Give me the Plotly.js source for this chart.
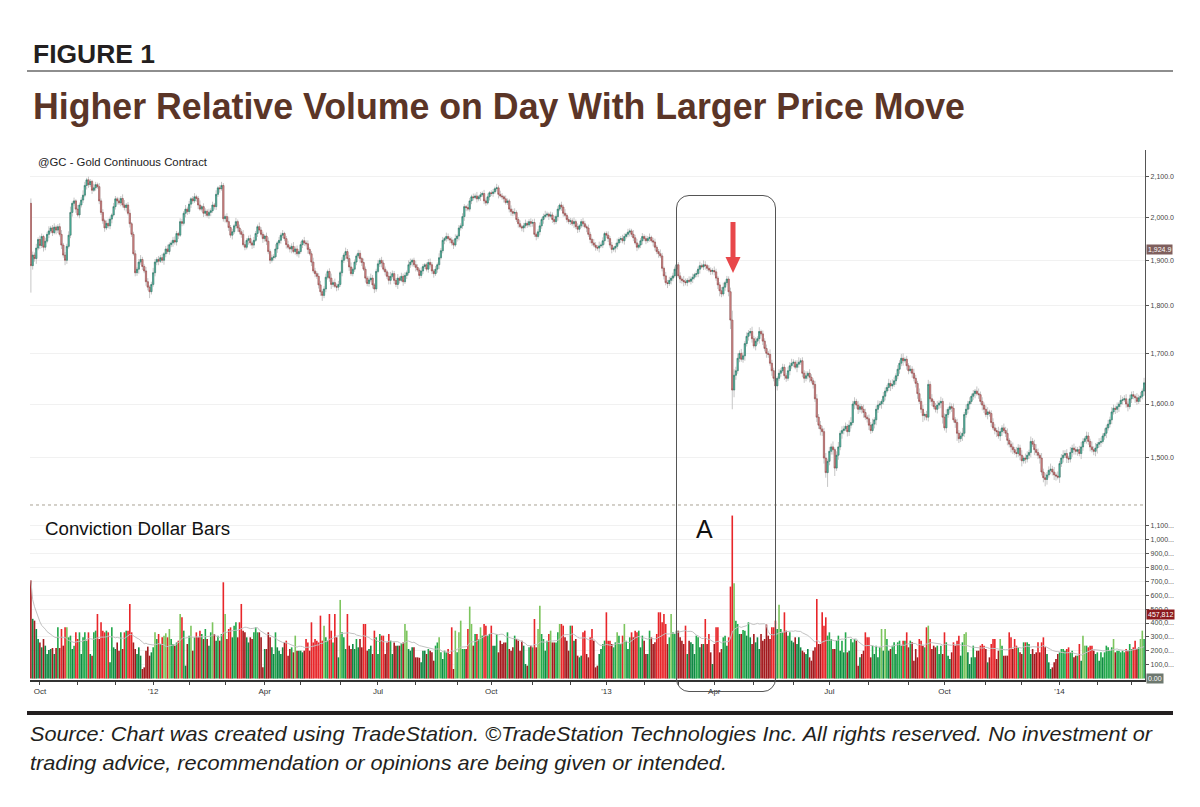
<!DOCTYPE html>
<html>
<head>
<meta charset="utf-8">
<script src="https://cdn.plot.ly/plotly-3.0.1.min.js"></script>
<style>
  html,body{margin:0;padding:0;background:#fff;}
  body{width:1200px;height:807px;overflow:hidden;position:relative;font-family:"Liberation Sans",Arial,sans-serif;}
  .abs{position:absolute;white-space:nowrap;line-height:1;transform-origin:0 0;}
  #figno{left:33px;top:41px;font-size:26px;font-weight:bold;color:#231f20;}
  #title{left:33px;top:89px;font-size:36px;font-weight:bold;color:#5b3527;}
  #src1,#src2{left:30px;font-size:21px;font-style:italic;color:#231f20;}
  #src1{top:723px;} #src2{top:752px;}
  #gc{left:38px;top:157px;font-size:10.5px;color:#222;}
  #conv{left:45px;top:520px;font-size:18px;color:#111;}
  #lblA{left:696px;top:517px;font-size:25px;color:#111;}
  #chart{position:absolute;left:28px;top:148px;width:1150px;height:552px;}
  .rule{position:absolute;}
</style>
</head>
<body>
<div class="abs" id="figno">FIGURE 1</div>
<div class="rule" style="left:27px;top:70px;width:1146px;height:2px;background:#8e8e8e;"></div>
<div class="abs" id="title">Higher Relative Volume on Day With Larger Price Move</div>
<div id="chart"></div>
<div class="abs" id="gc">@GC - Gold Continuous Contract</div>
<div class="abs" id="conv">Conviction Dollar Bars</div>
<div class="abs" id="lblA">A</div>
<div style="position:absolute;left:676px;top:195px;width:98px;height:495px;border:1.2px solid #555;border-radius:13px;pointer-events:none;"></div>
<svg style="position:absolute;left:0;top:0;pointer-events:none;" width="1200" height="807">
  <rect x="730.5" y="222" width="5" height="38" fill="#e8474a"/>
  <polygon points="725.5,257 740.5,257 733,273" fill="#e8474a"/>
</svg>
<div class="rule" style="left:27px;top:711px;width:1146px;height:4px;background:#231f20;"></div>
<div class="abs" id="src1">Source: Chart was created using TradeStation. ©TradeStation Technologies Inc. All rights reserved. No investment or</div>
<div class="abs" id="src2">trading advice, recommendation or opinions are being given or intended.</div>

<script>
// ---------------- DATA ----------------
const firstOpen = 2034;

const closes2011 = [1888,1912,1904,1928,1948,1934,1955,1930,1944,1960,1968,1975,1964,1977,1970,1978,1960,1935,1912,1900,
1932,1958,2012,2034,2040,2020,2006,2030,2042,2054,2078,2092,2080,2088,2066,2072,2080,2075,2040,2012,
1992,1975,1986,1980,1996,2006,2026,2045,2040,2035,2046,2030,2024,2030,2010,1985,1960,1915,1872,1880,
1896,1902,1886,1876,1852,1840,1830,1846];

const closes2012 = [1872,1896,
1902,1898,1906,1900,1915,1926,1920,1936,1940,1946,
1942,1962,1958,1990,1986,2010,2020,2014,2032,2045,
2040,2050,2046,2030,2020,2026,2010,2015,2005,2012,
2016,2030,2026,2056,2072,2070,2078,1997,
2002,1990,1976,1958,1966,1980,1990,1975,1966,1960,
1936,1930,1946,1950,1940,1935,1946,1962,1978,1970,
1960,1950,1956,1944,1920,1900,1906,1908,1926,1940,
1946,1958,1962,1950,1936,1930,1926,1932,1920,1926,
1915,1920,1936,1945,1940,1938,1925,1915,1896,1876,
1870,1864,1845,1830,1822,1836,1862,1875,
1860,1846,1850,1842,1840,1846,1872,1900,1912,1920,
1904,1885,1870,1880,1896,1910,1916,1904,1895,1880,
1860,1848,1856,1860,1845,1836,1875,1892,1900,1894,
1880,1874,1864,1855,1864,1870,1855,1846,1860,1855,
1864,1852,1866,1872,1890,1896,1900,1890,1884,1878,
1866,1876,1886,1890,1880,1895,1890,1876,1870,1880,
1890,1906,1922,1946,1950,1955,1950,1947,1940,1935,
1950,1956,1975,1980,2002,2026,2024,2020,2040,2050,
2048,2052,2045,2050,2055,2058,2040,2035,2050,2060,
2058,2062,2070,2072,2056,2052,2050,2045,2036,2040,
2020,2014,2010,2012,1995,1985,1978,1975,1980,1986,
1982,1990,1986,1988,1960,1955,1966,1980,1995,2002,
2006,2008,2003,2006,1995,1990,2002,2020,2030,2025,
2010,2005,1995,1990,1992,1985,1990,1978,1972,1980,
1990,1985,1978,1975,1960,1948,1940,1935,1930,1928,
1933,1935,1945,1962];

const closes2013 = [1958,1950,1935,1925,1928,1932,1940,1948,1950,1945,
1955,1960,1965,1968,1960,1952,1940,1930,1935,1945,
1955,1950,1945,1950,1953,1945,1942,1930,1920,1915,
1910,1882,1865,1850,1848,1855,1860,1865,1880,1890,
1865,1858,1855,1852,1850,1855,1853,1858,1862,1868,
1870,1880,1888,1885,1890,1888,1882,1878,1875,1877,
1874,1860,1845,1832,1825,1840,1850,1858,1830,1769,
1627,1656,1665,1690,1700,1688,1695,1720,1735,1742,
1745,1730,1715,1725,1730,1745,1740,1725,1710,1700,
1698,1680,1665,1650,1635,1650,1660,1665,1672,1655,
1650,1665,1675,1680,1682,1672,1678,1682,1685,1660,
1650,1655,1660,1652,1645,1638,1610,1575,1560,1553,
1548,1500,1474,1494,
1512,1520,1515,1482,1505,1520,1545,1550,1553,1558,
1548,1560,1565,1600,1605,1598,1590,1595,1590,1584,
1575,1572,1560,1550,1562,1570,1590,1598,1600,1605,
1615,1625,1632,1640,1635,1638,1645,1655,1668,1680,
1690,1685,1688,1675,1665,1668,1660,1650,1640,1620,
1605,1590,1578,1580,1575,1638,1610,1605,1595,1590,
1598,1602,1605,1575,1555,1580,1590,1595,1592,1570,
1565,1545,1535,1540,1545,1580,1590,1600,1605,1615,
1620,1625,1620,1618,1605,1598,1590,1580,1585,1582,
1565,1555,1550,1548,1540,1548,1555,1550,1545,1532,
1525,1520,1515,1510,1508,1518,1505,1495,1500,1498,
1505,1510,1530,1525,1515,1510,1505,1500,1475,1465,
1462,1470,1478,1480,1475,1470,1468,1466];

const closes2014 = [1490,1500,1505,1508,1500,1498,1510,1518,1515,1512,
1515,1508,1520,1530,1535,1540,1530,1520,1515,1512,
1518,1525,1528,1530,1540,1545,1555,1562,1570,1585,
1592,1590,1595,1600,1607,1608,1610,1600,1595,1610,
1618,1615,1612,1605,1612,1615,1625,1641];

// upper / lower wick lengths (price units) beyond the candle body
const wickHi = [
12,8,6,10,5,9,7,4,8,6,11,5,7,9,4,6,8,10,5,7,
6,9,14,5,8,4,10,6,7,12,9,5,8,6,4,10,7,5,9,6,
8,5,7,11,6,4,9,7,5,8,6,10,12,5,7,9,4,6,8,5,
7,10,6,5,9,8,4,6,11,7,5,8,6,9,4,7,10,5,6,8,
9,6,4,8,7,5,10,6,8,4,7,9,5,6,11,4,8,7,5,9,
6,8,5,10,4,7,9,6,5,8,12,6,7,4,9,5,8,6,10,7,
5,7,9,4,8,6,5,10,7,6,4,8,9,5,7,6,11,4,8,6,
8,4,6,9,5,7,10,6,8,5,7,4,9,6,8,5,6,10,7,5,
7,9,5,6,8,4,7,10,5,9,6,8,4,7,5,9,6,8,10,4,
6,5,8,7,4,9,6,5,8,10,7,4,6,9,5,8,7,6,4,9,
10,7,6,5,9,4,8,6,7,5,10,8,4,6,9,7,5,8,6,4,
5,8,9,6,4,7,5,10,6,8,4,9,7,5,6,8,10,4,7,6,
8,6,4,9,7,5,8,6,10,4,7,5,9,6,8,4,6,7,5,10,
6,9,7,4,8,6,5,9,7,10,5,6,8,4,7,9,5,6,8,7,
9,4,6,8,5,7,10,6,4,8,6,9,5,7,4,8,6,10,5,7,
7,6,10,5,8,4,6,9,7,5,8,6,4,9,7,5,10,6,8,4,
5,9,6,7,4,8,10,5,6,9,7,4,8,6,5,10,7,9,4,6,
8,5,7,6,9,4,7,8,5,6,10,7,4,9,6,8,5,7,6,9,
6,8,4,10,7,5,9,6,8,4,7,6,9,5,10,8,4,7,6,5,
9,7,5,6,8,10,4,7,6,9,20,12,8,10,6,9,7,5,8,6,
7,10,6,8,5,9,4,7,6,8,5,10,7,6,9,4,8,5,7,6,
5,8,7,9,6,4,8,10,5,7,6,9,4,8,6,5,7,9,6,8,
6,7,9,5,8,6,10,4,7,9,5,8,6,7,4,9,10,6,8,5,
8,6,5,9,7,4,8,6,10,5,7,9,6,4,8,7,5,9,6,10,
7,5,8,6,9,10,4,7,5,8,6,9,7,5,10,6,8,4,7,9,
6,9,4,7,8,5,9,6,7,10,4,8,6,9,5,7,6,8,10,5,
9,6,8,5,7,4,9,10,6,8,5,7,9,4,6,8,7,5,9,6,
5,8,7,9,4,6,8,5,10,7,6,9,4,8,7,5,9,6,8,10,
7,4,9,6,8,5,7,10,6,9,4,8,5,7,9,6,8,4,10,6,
8,6,5,7,9,6,4,8,7,5,10,6,9,4,8,7,5,9,6,8,
6,9,7,5,8,4,10,6,7,9,5,8,6,7,4,9,6,8,5,10];

const wickLo = [
60,9,7,12,5,8,6,10,7,5,9,6,8,4,10,7,5,9,6,11,
8,5,7,10,6,9,4,8,6,7,5,10,8,6,9,4,7,5,8,6,
7,9,5,6,8,10,4,7,9,5,8,6,7,10,5,9,6,4,8,7,
10,6,8,5,9,7,14,6,5,8,7,9,4,6,10,8,5,7,6,9,
6,8,9,4,7,5,10,8,6,9,7,5,8,10,4,6,9,7,5,8,
9,5,7,8,6,10,5,7,9,4,8,6,10,5,7,9,6,8,4,7,
5,10,6,9,7,4,8,6,5,10,7,9,6,8,5,7,4,9,6,8,
7,6,9,5,8,10,4,7,6,9,5,8,7,6,10,4,9,5,8,6,
8,9,12,6,7,5,8,10,6,4,9,7,5,8,6,10,7,9,5,6,
6,7,5,9,8,4,10,6,7,5,8,9,6,4,7,10,5,8,6,9,
9,5,8,6,10,7,4,9,5,8,6,7,10,5,9,4,8,6,7,5,
5,8,6,7,9,5,8,10,4,6,9,7,5,8,6,9,4,7,10,6,
7,10,9,5,6,8,7,4,9,6,10,5,8,7,4,9,6,8,5,7,
10,4,7,9,5,6,8,10,7,5,6,9,4,8,10,6,7,5,9,8,
6,9,5,8,7,10,4,6,9,5,8,7,6,10,5,9,8,4,7,6,
8,5,10,6,9,7,5,8,4,10,6,9,7,5,8,6,10,4,7,9,
7,8,6,9,5,10,7,4,8,6,9,5,7,10,6,8,4,9,5,7,
9,6,8,5,7,4,10,8,6,9,5,7,8,6,10,5,9,7,4,8,
5,9,7,10,6,8,4,7,9,5,6,8,10,4,7,9,6,5,8,7,
8,6,9,12,7,5,8,6,10,19,37,14,9,6,8,5,7,10,6,9,
6,8,5,9,7,10,4,8,6,9,7,5,10,6,8,9,5,7,4,8,
7,5,9,6,8,4,10,7,5,8,9,6,7,10,5,8,6,9,7,12,
8,10,9,25,7,6,9,14,5,8,6,10,7,4,9,8,6,5,10,7,
9,6,8,10,5,7,9,6,4,8,10,7,5,9,6,8,4,7,10,6,
5,8,7,9,6,10,4,8,7,5,9,6,8,10,5,7,12,9,6,8,
7,9,5,6,8,7,10,12,5,9,6,8,7,5,10,14,8,6,9,7,
6,8,10,5,7,9,4,8,6,10,7,5,9,6,8,4,7,10,5,9,
8,5,7,9,6,10,8,4,7,6,9,10,5,8,6,7,9,5,10,6,
7,10,6,8,12,9,5,7,6,9,8,4,10,6,8,5,9,7,6,8,
9,6,8,5,10,7,4,9,6,8,5,7,9,10,6,8,4,7,9,5,
6,8,5,9,7,10,6,8,4,7,9,5,8,6,10,7,5,8,6,9];

// Conviction Dollar Bars (thousands)
const vol2011 = [705,430,417,357,285,260,225,285,237,177,206,213,220,177,220,369,220,357,237,369,
369,297,309,213,237,333,285,333,177,297,333,273,333,177,165,333,345,465,285,405,
345,333,345,333,117,369,225,213,260,201,333,213,333,345,345,537,333,260,213,177,
225,165,69,81,201,230,165,189];

const vol2012 = [225,333,285,321,249,297,309,326,297,357,285,249,237,260,273,465,441,345,93,
249,309,381,201,297,333,297,
345,321,285,357,285,237,333,405,
321,273,309,273,321,693,465,285,357,369,297,381,405,297,405,537,345,333,297,260,297,285,333,369,333,333,297,81,213,213,333,297,225,177,333,225,201,
177,225,260,273,165,213,225,189,309,
201,201,201,189,201,285,260,201,405,
260,285,273,260,453,273,381,297,273,
465,345,260,465,297,153,566,333,297,213,465,237,213,249,
213,285,225,285,225,393,393,201,213,
237,177,345,297,177,321,309,309,177,
260,321,273,177,260,237,237,
237,254,260,393,
345,213,201,225,225,153,153,150,117,201,
201,177,213,201,189,129,237,260,297,189,
141,201,189,213,177,369,69,345,189,333,
417,213,213,213,357,518,393,237,321,321,
285,369,309,393,381,309,321,381,237,237,
321,189,273,249,260,260,333,213,201,225,
309,285,273,201,273,237,105,93,225,237,
225,429,225,357,525,321,285,201,273,321,
345,260,260,260,333,393,393,381,297,273,
201,381,381,273,285,165,153,165,333,345,
177,153,297,357,273,81,93,177,213,249,
273];

const vol2013 = [477,273,273,249,225,261,333,309,249,309,
393,273,213,297,333,297,345,333,345,225,
309,273,177,177,345,297,249,261,321,477,
477,405,465,393,249,297,465,333,321,345,
345,297,273,249,381,177,273,261,249,177,
309,297,225,249,249,429,249,321,189,105,
249,369,369,189,213,297,309,237,297,662,
1173,686,417,393,321,321,350,345,309,405,
297,249,321,261,297,213,321,273,285,389,
309,285,369,369,417,357,532,357,333,477,
345,309,333,273,261,297,249,297,225,201,
189,177,213,153,129,201,225,573,249,249,
477,381,441,309,333,285,213,213,273,309,
201,273,189,333,189,
201,285,261,285,273,93,153,177,201,333,
297,297,153,237,177,237,153,225,357,201,
357,285,201,213,237,261,177,261,273,237,
273,273,333,225,273,261,129,213,153,285,
273,237,225,369,381,285,213,237,225,237,
177,237,177,333,261,165,141,189,261,237,
273,309,165,261,321,333,189,105,153,237,
153,201,201,237,249,237,213,117,153,249,
285,285,141,201,285,237,165,165,165,333,
297,213,285,237,225,189,177,261,261,261,
249,177,213,177,189,261,189,261,297,225,
177,117,69,81,117,141,177];

const vol2014 = [189,213,213,201,213,225,189,201,153,165,165,249,129,
309,237,237,225,237,237,201,177,189,129,
189,153,189,237,225,201,225,285,189,201,
201,189,201,189,213,201,249,213,225,273,
213,225,285,345,285];

// calendar: first bar and exchange holidays without a bar
const startDate = '2011-09-26';
const holidays = ['2011-11-24','2011-12-26','2012-01-02','2012-01-16','2012-02-20','2012-04-06','2012-05-28',
'2012-07-04','2012-09-03','2012-11-22','2012-12-25','2013-01-01','2013-01-21','2013-02-18','2013-03-29',
'2013-05-27','2013-07-04','2013-09-02','2013-11-28','2013-12-25','2014-01-01','2014-01-20','2014-02-17'];

// axis labels
const quarterLabels = {'2011-10':'Oct','2012-01':"'12",'2012-04':'Apr','2012-07':'Jul','2012-10':'Oct',
'2013-01':"'13",'2013-04':'Apr','2013-07':'Jul','2013-10':'Oct','2014-01':"'14"};
const priceTicks = [1500,1600,1700,1800,1900,2000,2100];
const priceTickText = ['1,500.0','1,600.0','1,700.0','1,800.0','1,900.0','2,000.0','2,100.0'];
const volTicks = [100,200,300,400,500,600,700,800,900,1000,1100];
const volTickText = ['100,0...','200,0...','300,0...','400,0...','500,0...','600,0...','700,0...','800,0...','900,0...','1,000...','1,100...'];
const supportLine = {from: 0, to: 386, p0: 1818, p1: 1810};
const lastTag = 1924.9;
const volTag = 457.812;

// ---------------- BUILD ----------------
const closes = [].concat(closes2011, closes2012, closes2013, closes2014);
const volume = [].concat(vol2011, vol2012, vol2013, vol2014);
const n = Math.min(closes.length, volume.length, wickHi.length, wickLo.length);

const dates = [];
(function(){
  let d = new Date(startDate + 'T00:00:00Z');
  while (dates.length < n) {
    const wd = d.getUTCDay();
    const s = d.toISOString().slice(0,10);
    if (wd !== 0 && wd !== 6 && holidays.indexOf(s) < 0) dates.push(s);
    d.setUTCDate(d.getUTCDate() + 1);
  }
})();

const C = closes.slice(0,n);
const O = C.map((c,i)=> i===0 ? firstOpen : C[i-1]);
const H = C.map((c,i)=> Math.max(O[i],c) + wickHi[i]);
const L = C.map((c,i)=> Math.min(O[i],c) - wickLo[i]);
const BH = C.map((c,i)=> Math.max(O[i],c));
const BL = C.map((c,i)=> Math.min(O[i],c));
const V = volume.slice(0,n);

// 20-bar moving average of volume
const MA = V.map((v,i)=>{ const s=Math.max(0,i-19); let t=0; for(let k=s;k<=i;k++) t+=V[k]; return t/(i-s+1); });
const barColors = V.map((v,i)=>{
  const up = C[i] >= O[i];
  const r = v / MA[i];
  if (up) return r > 1.25 ? '#7dc55e' : (r > 0.9 ? '#22a84b' : '#0f8843');
  return r > 1.05 ? '#e8262a' : '#a3191d';
});

// ticks at the first bar of each month
const tickvals = [], ticktext = [];
dates.forEach((s,i)=>{
  if (i===0) return;
  if (s.slice(0,7) !== dates[i-1].slice(0,7)) { tickvals.push(s); ticktext.push(quarterLabels[s.slice(0,7)] || ''); }
});

const FONT = 'Liberation Sans, Arial, sans-serif';
const traces = [
  { type:'candlestick', x:dates, open:O, high:H, low:L, close:C, xaxis:'x', yaxis:'y',
    increasing:{line:{color:'#c6c6c6',width:1}, fillcolor:'#c6c6c6'},
    decreasing:{line:{color:'#c6c6c6',width:1}, fillcolor:'#c6c6c6'},
    whiskerwidth:0, hoverinfo:'skip', showlegend:false },
  { type:'candlestick', x:dates, open:O, high:BH, low:BL, close:C, xaxis:'x', yaxis:'y',
    increasing:{line:{color:'#1c6a5a',width:0.5}, fillcolor:'#5fc6ae'},
    decreasing:{line:{color:'#8a3535',width:0.5}, fillcolor:'#e29e9e'},
    whiskerwidth:0, hoverinfo:'skip', showlegend:false },
  { type:'bar', x:dates, y:V, xaxis:'x', yaxis:'y2', marker:{color:barColors, line:{width:0}}, hoverinfo:'skip', showlegend:false },
  { type:'scatter', mode:'lines', x:dates, y:MA, xaxis:'x', yaxis:'y2', line:{color:'#c2c2c2', width:1}, hoverinfo:'skip', showlegend:false }
];

const split = 0.3302;
const layout = {
  width:1150, height:552,
  margin:{l:2, r:33, t:2, b:20},
  paper_bgcolor:'rgba(0,0,0,0)', plot_bgcolor:'rgba(0,0,0,0)',
  showlegend:false, bargap:0.1, boxgap:0.05,
  font:{family:FONT, color:'#333'},
  xaxis:{type:'category', anchor:'y2', range:[-0.5, n-0.5], rangeslider:{visible:false},
    tickvals:tickvals, ticktext:ticktext, ticks:'outside', ticklen:3, tickcolor:'#444', tickwidth:1,
    tickfont:{size:8, color:'#333', family:FONT}, tickangle:0, showline:true, linecolor:'#333', linewidth:1.5,
    showgrid:false, zeroline:false, fixedrange:true, automargin:false},
  yaxis:{type:'log', domain:[split,1], side:'right', anchor:'x', range:[Math.log10(1418), Math.log10(2168)],
    tickvals:priceTicks, ticktext:priceTickText, ticks:'outside', ticklen:3, tickcolor:'#555',
    tickfont:{size:7, color:'#444', family:FONT}, showline:true, linecolor:'#555', linewidth:1.2,
    showgrid:true, gridcolor:'#f1f1f1', zeroline:false, fixedrange:true, automargin:false},
  yaxis2:{domain:[0,split], side:'right', anchor:'x', range:[-10,1249],
    tickvals:volTicks, ticktext:volTickText, ticks:'outside', ticklen:3, tickcolor:'#555',
    tickfont:{size:7, color:'#444', family:FONT}, showline:true, linecolor:'#555', linewidth:1.2,
    showgrid:true, gridcolor:'#f1f1f1', zeroline:false, fixedrange:true, automargin:false},
  shapes:[
    {type:'line', xref:'paper', yref:'paper', x0:0, x1:1, y0:split, y1:split, line:{color:'#a9a294', width:1, dash:'dot'}},
    {type:'line', xref:'x', yref:'y', x0:supportLine.from-0.5, x1:supportLine.to,
      y0:Math.log10(supportLine.p0), y1:Math.log10(supportLine.p1), line:{color:'#6cb94a', width:2}}
  ],
  annotations:[
    {xref:'paper', x:1, xanchor:'left', xshift:1, yref:'y', y:Math.log10(lastTag), text:'1,924.9', showarrow:false,
      bgcolor:'#7f5f5d', font:{size:7, color:'#fff', family:FONT}, borderpad:1},
    {xref:'paper', x:1, xanchor:'left', xshift:1, yref:'y2', y:volTag, text:'457,812', showarrow:false,
      bgcolor:'#8c1b1e', font:{size:7, color:'#fff', family:FONT}, borderpad:1},
    {xref:'paper', x:1, xanchor:'left', xshift:1, yref:'y2', y:0, text:'0.00', showarrow:false,
      bgcolor:'#6d786f', font:{size:7, color:'#fff', family:FONT}, borderpad:1}
  ]
};

Plotly.newPlot('chart', traces, layout, {displayModeBar:false, staticPlot:true});

// fit header/footer texts to the measured widths of the reference
function fit(id, w){ const el=document.getElementById(id); const nat=el.getBoundingClientRect().width; if(nat>0) el.style.transform='scaleX('+(w/nat)+')'; }
fit('figno', 122); fit('title', 932); fit('src1', 1122); fit('src2', 697); fit('conv', 185); fit('gc', 169);
</script>
</body>
</html>
